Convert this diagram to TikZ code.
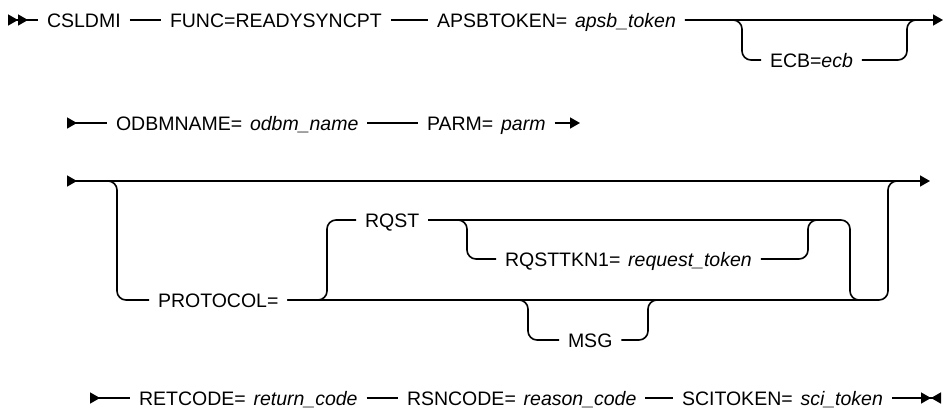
\documentclass[tikz,border=0pt]{standalone}
\usepackage{fontspec}
\setmainfont{Liberation Sans}
\usetikzlibrary{arrows.meta}
\newcommand{\railfont}{\fontsize{19.5}{22}\selectfont}
\newcommand{\railvar}[1]{\hspace{0.4em}\textit{#1}}
\tikzset{
    rail/.style={line width=1.6pt, rounded corners=9pt},
    kw/.style={anchor=west, inner sep=0pt, outer xsep=9pt,
        text height=14pt, text depth=0pt, font=\railfont},
    rrfirst/.style={arrows={Triangle[reversed,length=10pt,width=11pt]Triangle[reversed,length=10pt,width=11pt]}-},
    rrstart/.style={arrows={Triangle[reversed,length=10pt,width=11pt]}-},
    rrnext/.style={arrows=-{Triangle[length=10pt,width=11pt]}},
    rrthru/.style={arrows={Triangle[reversed,length=10pt,width=11pt]}-{Triangle[length=10pt,width=11pt]}},
    rrlast/.style={arrows=-{Triangle[length=10pt,width=11pt]Triangle[reversed,length=10pt,width=11pt]}}
}

\begin{document}
\begin{tikzpicture}[x=1pt,y=-1pt]
    \useasboundingbox (0,0) rectangle (943,410);

    % first line
    \node[kw] (csldmi) at (38,20) {CSLDMI};
    \node[kw] (func) at (161,20) {FUNC=READYSYNCPT};
    \node[kw] (apsb) at (428,20) {APSBTOKEN=\railvar{apsb\_token}};
    \node[kw] (ecb) at (761,60) {ECB=\textit{ecb}};
    \coordinate (s1) at (8,20);
    \coordinate (e1) at (943,20);
    \coordinate (ecbL) at (742,20);
    \coordinate (ecbR) at (907,20);
    \coordinate (ecbR2) at (925,20);
    \draw[rail,rrfirst] (s1) -- (csldmi.west);
    \draw[rail] (csldmi.east) -- (func.west);
    \draw[rail] (func.east) -- (apsb.west);
    \draw[rail,rrnext] (apsb.east) -- (e1);
    \draw[rail] (apsb.east) -- (ecbL) |- (ecb.west);
    \draw[rail] (ecb.east) -| (ecbR) -- (ecbR2);

    % second line
    \node[kw] (odbm) at (107,123) {ODBMNAME=\railvar{odbm\_name}};
    \node[kw] (parm) at (418,123) {PARM=\railvar{parm}};
    \coordinate (s2) at (67,123);
    \coordinate (e2) at (580,123);
    \draw[rail,rrstart] (s2) -- (odbm.west);
    \draw[rail] (odbm.east) -- (parm.west);
    \draw[rail,rrnext] (parm.east) -- (e2);

    % third line
    \node[kw] (proto) at (149,300) {PROTOCOL=};
    \node[kw] (rqst) at (356,220) {RQST};
    \node[kw] (tkn) at (496,259) {RQSTTKN1=\railvar{request\_token}};
    \node[kw] (msg) at (559,340) {MSG};
    \coordinate (s3) at (67,181);
    \coordinate (e3) at (930,181);
    \coordinate (pa) at (117,181);
    \coordinate (pb) at (888,300);
    \coordinate (pc) at (905,181);
    \coordinate (qa) at (327,300);
    \coordinate (qb) at (850,220);
    \coordinate (qc) at (870,300);
    \coordinate (ta) at (467,220);
    \coordinate (tb) at (808,220);
    \coordinate (tc) at (826,220);
    \coordinate (ma) at (515,300);
    \coordinate (mb) at (528,300);
    \coordinate (mc) at (648,300);
    \coordinate (md) at (662,300);
    \draw[rail,rrthru] (s3) -- (e3);
    \draw[rail] (s3) -- (pa) |- (proto.west);
    \draw[rail] (proto.east) -- (pb) |- (pc);
    \draw[rail] (proto.east) -- (qa) |- (rqst.west);
    \draw[rail] (rqst.east) -- (qb) |- (qc);
    \draw[rail] (rqst.east) -- (ta) |- (tkn.west);
    \draw[rail] (tkn.east) -| (tb) -- (tc);
    \draw[rail] (ma) -- (mb) |- (msg.west);
    \draw[rail] (msg.east) -| (mc) -- (md);

    % fourth line
    \node[kw] (ret) at (130,398) {RETCODE=\railvar{return\_code}};
    \node[kw] (rsn) at (398,398) {RSNCODE=\railvar{reason\_code}};
    \node[kw] (sci) at (673,398) {SCITOKEN=\railvar{sci\_token}};
    \coordinate (s4) at (90,398);
    \coordinate (e4) at (941,398);
    \draw[rail,rrstart] (s4) -- (ret.west);
    \draw[rail] (ret.east) -- (rsn.west);
    \draw[rail] (rsn.east) -- (sci.west);
    \draw[rail,rrlast] (sci.east) -- (e4);
\end{tikzpicture}
\end{document}
